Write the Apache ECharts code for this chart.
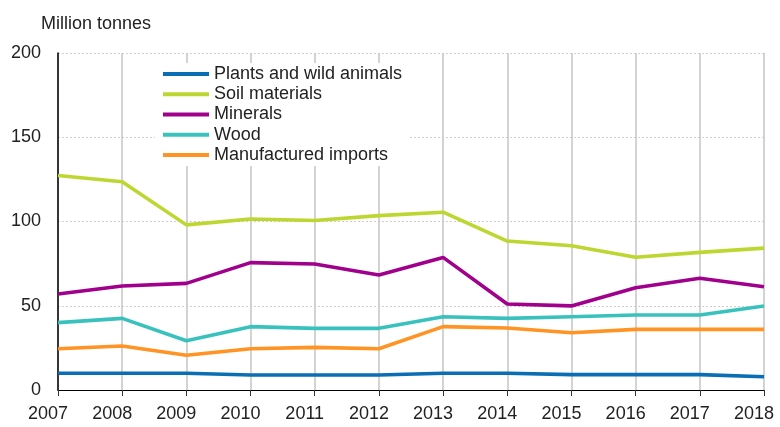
<!DOCTYPE html>
<html>
<head>
<meta charset="utf-8">
<script src="https://cdn.jsdelivr.net/npm/echarts@6/dist/echarts.min.js"></script>
<style>html,body{margin:0;padding:0;background:#fff}#c{width:780px;height:427px}</style>
</head>
<body>
<div id="c"></div>
<script>
const years = ['2007','2008','2009','2010','2011','2012','2013','2014','2015','2016','2017','2018'];
const plants = [9.9, 9.9, 9.9, 8.9, 8.9, 8.9, 9.9, 9.9, 9.1, 9.1, 9.1, 7.9];
const soil = [127.3, 123.6, 98.0, 101.5, 100.6, 103.5, 105.5, 88.4, 85.6, 78.8, 81.7, 84.2];
const minerals = [57.0, 61.7, 63.3, 75.6, 74.8, 68.2, 78.7, 51.0, 49.9, 60.7, 66.3, 61.3];
const wood = [40.0, 42.5, 29.2, 37.6, 36.6, 36.6, 43.5, 42.5, 43.5, 44.5, 44.5, 49.9];
const manufactured = [24.5, 26.1, 20.6, 24.5, 25.3, 24.5, 37.6, 36.8, 34.0, 36.0, 36.0, 36.0];
const seriesNames = ['Plants and wild animals','Soil materials','Minerals','Wood','Manufactured imports'];
const seriesData = [plants, soil, minerals, wood, manufactured];
const colors = ['#0a6eb4','#bed630','#a0008c','#39c2bd','#ff9424'];

const font = '"Liberation Sans", Arial, sans-serif';
const chart = echarts.init(document.getElementById('c'), null, {renderer:'canvas'});
chart.setOption({
  animation: false,
  color: colors,
  title: {
    text: 'Million tonnes', left: 36, top: 10,
    textStyle: {fontFamily: font, fontSize: 18, fontWeight: 'normal', color: '#222'}
  },
  legend: {
    orient: 'vertical', left: 155, top: 63,
    padding: [1, 8, 1, 8],
    backgroundColor: '#fff',
    icon: 'rect', itemWidth: 46, itemHeight: 4, itemGap: 0,
    textStyle: {fontFamily: font, fontSize: 18, color: '#222', lineHeight: 20.2},
    data: seriesNames
  },
  grid: {left: 58, right: 16, top: 53, bottom: 37, containLabel: false},
  xAxis: {
    type: 'category', data: years, boundaryGap: false,
    axisLine: {lineStyle: {color: '#000', width: 1}},
    axisTick: {show: true, length: 6, lineStyle: {color: '#333'}},
    axisLabel: {fontFamily: font, fontSize: 18, color: '#222', margin: 15, padding: [0, 20, 0, 0]},
    splitLine: {show: true, lineStyle: {color: '#c4c4c4', width: 1.5}}
  },
  yAxis: {
    type: 'value', min: 0, max: 200, interval: 50,
    axisLine: {show: true, lineStyle: {color: '#000', width: 1.5}},
    axisTick: {show: false},
    axisLabel: {fontFamily: font, fontSize: 18, color: '#222', margin: 17},
    splitLine: {show: true, lineStyle: {color: '#cfcfcf', type: [2, 2], width: 1}}
  },
  series: seriesNames.map((n, i) => ({
    name: n, type: 'line', data: seriesData[i],
    symbol: 'none', z: 3,
    lineStyle: {width: 3.6, color: colors[i]},
    itemStyle: {color: colors[i]}
  }))
});
</script>
</body>
</html>
